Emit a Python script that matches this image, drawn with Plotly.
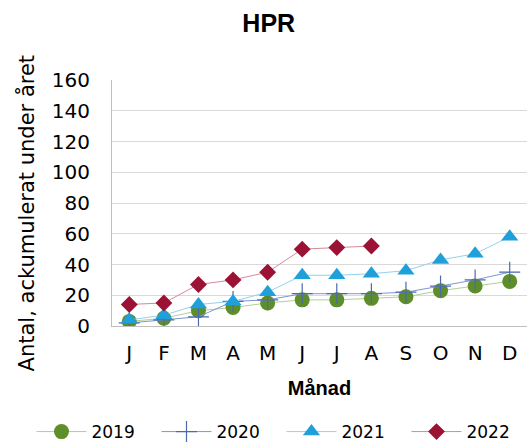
import plotly.graph_objects as go

months = ["J", "F", "M", "A", "M", "J", "J", "A", "S", "O", "N", "D"]
month_pos = list(range(1, 13))

v2019 = [3, 5, 10, 12, 15, 17, 17, 18, 19, 23, 26, 29]
v2020 = [2, 4, 6, 16, 17, 21, 21, 21, 22, 26, 30, 35]
v2021 = [4, 7, 14, 16, 22, 33, 33, 34, 36, 43, 47, 58]
v2022 = [14, 15, 27, 30, 35, 50, 51, 52]

series = [
    ("2019", v2019, "circle", 15, "#5E8E2A", "#B2CF96", 0),
    ("2020", v2020, "cross-thin", 15, "#4A6AAE", "#7F96CC", 1),
    ("2021", v2021, "triangle-up", 15, "#1FA0DA", "#93D2F0", 0),
    ("2022", v2022, "diamond", 13, "#9B1235", "#D6899A", 0),
]

fig = go.Figure()
for name, vals, sym, size, mcol, lcol, mlw in series:
    marker = dict(symbol=sym, size=size, color=mcol)
    if mlw:
        marker["line"] = dict(width=1.2, color=mcol)
    else:
        marker["line"] = dict(width=0)
    fig.add_trace(go.Scatter(
        x=month_pos[:len(vals)], y=vals, name=name, mode="lines+markers",
        line=dict(color=lcol, width=1), marker=marker,
    ))

fig.update_layout(
    width=528, height=446,
    margin=dict(l=112, r=1, t=80, b=120, autoexpand=False),
    paper_bgcolor="white", plot_bgcolor="white",
    title=dict(text="<b>HPR</b>", x=0.509, xanchor="center", y=0.947, yanchor="middle",
               font=dict(family="Liberation Sans, Arial, sans-serif", size=25, color="#000000")),
    font=dict(family="DejaVu Sans, Verdana, sans-serif", color="#000000"),
    showlegend=True,
    legend=dict(orientation="h", x=-0.194, xanchor="left", y=-0.431, yanchor="middle",
                itemwidth=50, entrywidth=60,
                font=dict(size=17, color="#000000"),
                bgcolor="rgba(0,0,0,0)"),
    annotations=[dict(text="Antal, ackumulerat under året", textangle=-90,
                      xref="paper", yref="paper", x=-0.207, y=0.458,
                      xanchor="center", yanchor="middle", showarrow=False,
                      font=dict(size=21, family="DejaVu Sans, Verdana, sans-serif", color="#000000"))],
)
fig.update_xaxes(
    range=[0.5, 12.5], tickmode="array", tickvals=month_pos, ticktext=months,
    showgrid=False, showline=True, linecolor="#BFBFBF", linewidth=1,
    ticks="", tickfont=dict(size=20), ticklabelstandoff=9,
    title=dict(text="<b>Månad</b>", standoff=16,
               font=dict(family="Liberation Sans, Arial, sans-serif", size=20)),
    zeroline=False,
)
fig.update_yaxes(
    range=[0, 160], dtick=20, showgrid=True, gridcolor="#D9D9D9", gridwidth=1,
    showline=True, linecolor="#BFBFBF", linewidth=1, ticks="",
    tickfont=dict(size=20), ticklabelstandoff=17, zeroline=False,
)

fig.write_html("out.html", config={"displayModeBar": False},
               post_script="document.body.style.margin='0';")
